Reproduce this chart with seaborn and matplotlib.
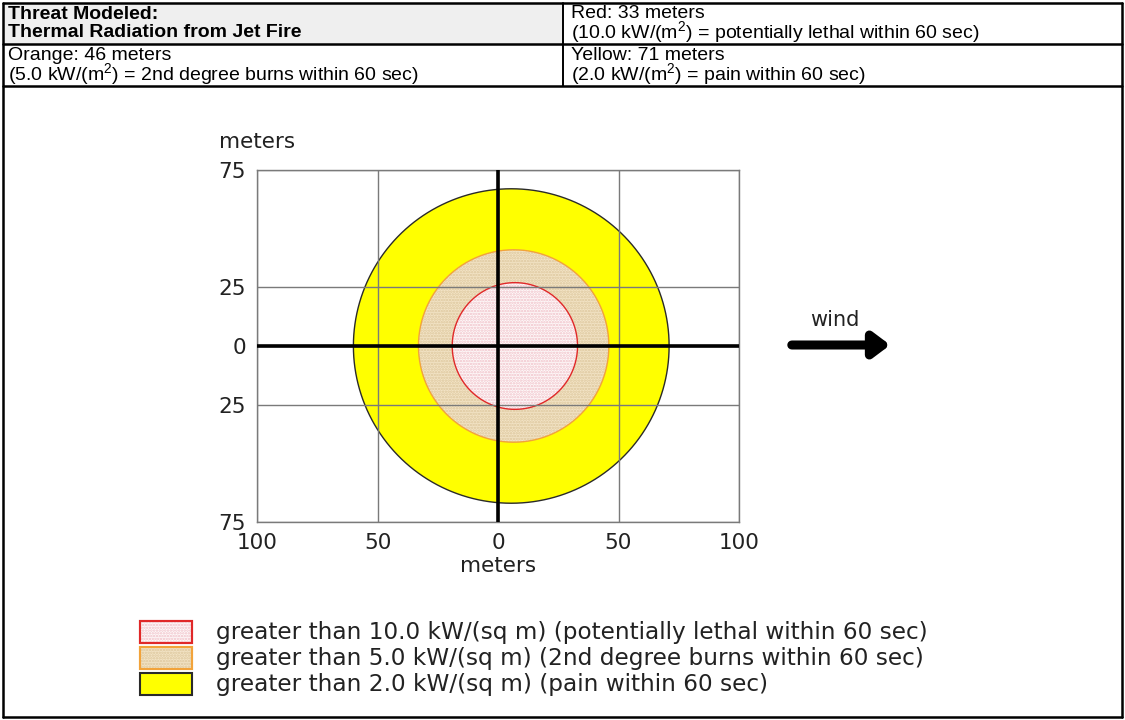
import numpy as np
import pandas as pd
import seaborn as sns
import matplotlib.pyplot as plt
from matplotlib.patches import Rectangle

# header table text
threat_title = ['Threat Modeled:', 'Thermal Radiation from Jet Fire']
zone_names = ['Red', 'Orange', 'Yellow']
zone_dist_m = [33, 46, 71]
zone_flux = ['10.0', '5.0', '2.0']
zone_effect = ['potentially lethal within 60 sec',
               '2nd degree burns within 60 sec',
               'pain within 60 sec']

# threat zone footprints (meters)
downwind_m = [33, 46, 71]
upwind_m = [19, 33, 60]
crosswind_m = [27, 41, 67]

x_ticks = [-100, -50, 0, 50, 100]
x_tick_labels = ['100', '50', '0', '50', '100']
y_ticks = [-75, -25, 0, 25, 75]
y_tick_labels = ['75', '25', '0', '25', '75']

legend_labels = [
    'greater than 10.0 kW/(sq m) (potentially lethal within 60 sec)',
    'greater than 5.0 kW/(sq m) (2nd degree burns within 60 sec)',
    'greater than 2.0 kW/(sq m) (pain within 60 sec)',
]

fill_colors = ['#fefafa', '#f3e4c6', '#ffff00']
hatch_colors = ['#f0c0c8', '#dcc69c', '#ffff00']
edge_colors = ['#e02828', '#f2a33a', '#2a2a2a']

sns.set_theme(style='white')
plt.rcParams['font.family'] = ['DejaVu Sans']
plt.rcParams['hatch.linewidth'] = 1.2

W, H = 1125, 720
fig = plt.figure(figsize=(W / 100, H / 100), dpi=100, facecolor='white')

# background axes in pixel units for the table frame and the legend
bg = fig.add_axes([0, 0, 1, 1])
bg.set_xlim(0, W)
bg.set_ylim(H, 0)
bg.axis('off')

left, right, col = 3, 1122, 563
top, mid, row2, bottom = 3, 44, 86, 717
bg.add_patch(Rectangle((left, top), col - left, mid - top, facecolor='#efefef', edgecolor='none'))
for y in [top, mid, row2, bottom]:
    bg.plot([left, right], [y, y], color='black', lw=1.8)
for x in [left, right]:
    bg.plot([x, x], [top, bottom], color='black', lw=1.8)
bg.plot([col, col], [top, row2], color='black', lw=1.4)

tfont = dict(family='Liberation Sans', fontsize=14, va='center', ha='left', color='black')
bg.text(8, 23.5, '\n'.join(threat_title), fontweight='bold', linespacing=1.12, **tfont)
cells = [(571, 25.5), (8, 67.5), (571, 67.5)]
for i, (cx, cy) in enumerate(cells):
    cell_text = (f'{zone_names[i]}: {zone_dist_m[i]} meters\n'
                 f'({zone_flux[i]} kW/(m$^\\mathregular{{2}}$) = {zone_effect[i]})')
    bg.text(cx, cy, cell_text, linespacing=0.85, **tfont)

# main threat zone plot
ax = fig.add_axes([257 / W, 1 - 522 / H, 482 / W, 352 / H])
ax.set_xlim(-100, 100)
ax.set_ylim(-75, 75)

theta = np.linspace(0, 2 * np.pi, 361)
frames = []
for i, name in enumerate(zone_names):
    cx = (downwind_m[i] - upwind_m[i]) / 2
    a = (downwind_m[i] + upwind_m[i]) / 2
    frames.append(pd.DataFrame({'x': cx + a * np.cos(theta),
                                'y': crosswind_m[i] * np.sin(theta),
                                'zone': name}))
outline = pd.concat(frames, ignore_index=True)

for i in [2, 1, 0]:
    d = outline[outline['zone'] == zone_names[i]]
    ax.fill(d['x'], d['y'], facecolor=fill_colors[i], edgecolor='none', zorder=1)
    if i < 2:
        ax.fill(d['x'], d['y'], facecolor='none', edgecolor=hatch_colors[i],
                hatch='......', lw=0, zorder=1)

sns.lineplot(data=outline, x='x', y='y', hue='zone', hue_order=zone_names,
             palette=edge_colors, sort=False, estimator=None, legend=False,
             lw=1, ax=ax, zorder=2)

ax.set_xticks(x_ticks, x_tick_labels)
ax.set_yticks(y_ticks, y_tick_labels)
ax.set_axisbelow(False)
ax.grid(True, color='#7a7a7a', lw=1)
ax.axhline(0, color='black', lw=2.6, zorder=3)
ax.axvline(0, color='black', lw=2.6, zorder=3)
for s in ax.spines.values():
    s.set_color('#7a7a7a')
    s.set_linewidth(1)
ax.tick_params(length=0, labelsize=15.5, colors='#222222', pad=8)
ax.set_xlabel('meters', fontsize=15.5, color='#222222', labelpad=2)
ax.set_ylabel('')
ax.text(0, 1.08, 'meters', transform=ax.transAxes, fontsize=15.5,
        color='#222222', ha='center', va='center')

# wind direction
bg.text(835, 320, 'wind', fontsize=15, color='#222222', ha='center', va='center')
bg.annotate('', xy=(893, 345), xytext=(789, 345),
            arrowprops=dict(arrowstyle='-|>,head_width=0.6,head_length=0.8',
                            lw=6.5, color='black', capstyle='round'))

# legend
for i, lab in enumerate(legend_labels):
    yc = 632 + i * 26
    bg.add_patch(Rectangle((140, yc - 11), 52, 22, facecolor=fill_colors[i],
                           edgecolor=edge_colors[i], lw=1.5))
    if i < 2:
        bg.add_patch(Rectangle((140, yc - 11), 52, 22, facecolor='none',
                               edgecolor=hatch_colors[i], hatch='......', lw=0))
        bg.add_patch(Rectangle((140, yc - 11), 52, 22, facecolor='none',
                               edgecolor=edge_colors[i], lw=1.5))
    bg.text(216, yc, lab, fontsize=16.7, color='#222222', ha='left', va='center')

fig.savefig('out.png', dpi=100, facecolor='white')
